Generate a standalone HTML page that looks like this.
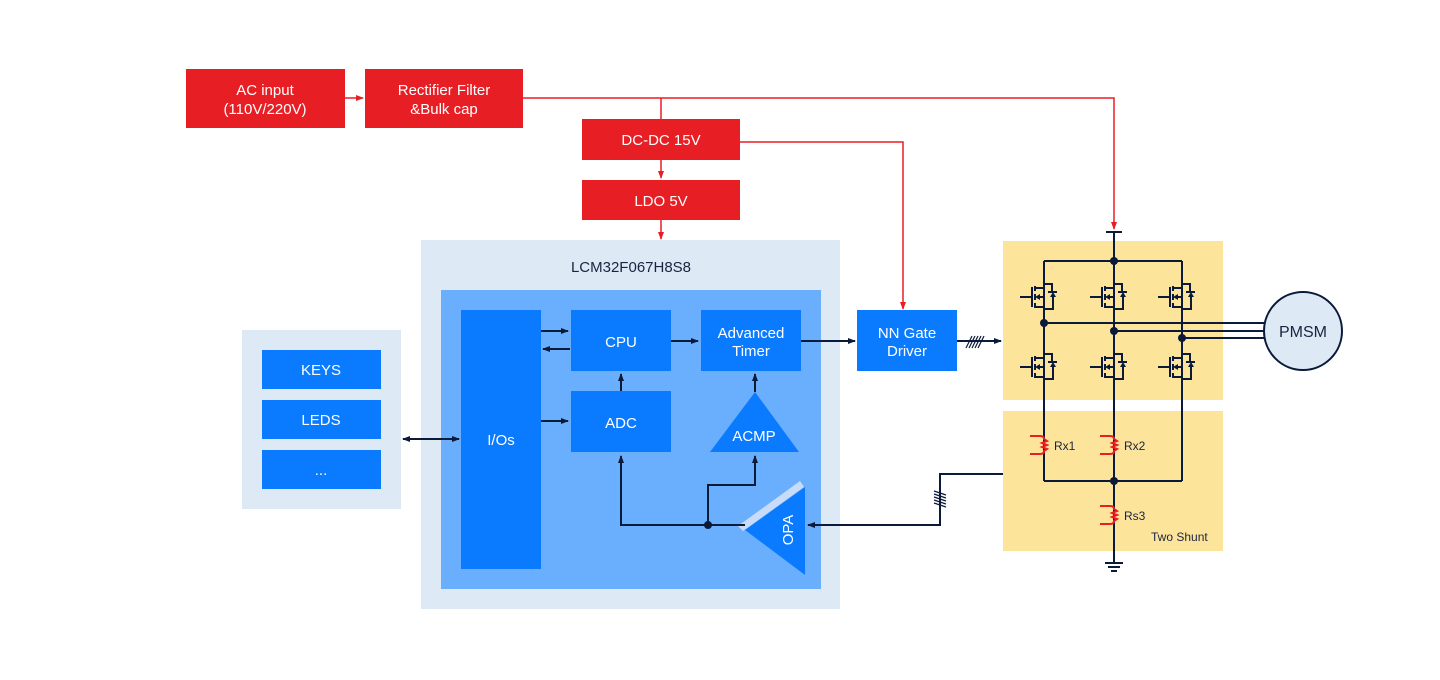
<!DOCTYPE html>
<html><head><meta charset="utf-8"><style>
html,body{margin:0;padding:0;background:#fff;}
svg{display:block;font-family:"Liberation Sans",sans-serif;}
</style></head><body>
<svg width="1440" height="680" viewBox="0 0 1440 680" xmlns="http://www.w3.org/2000/svg">
<defs>
<marker id="an" markerWidth="8" markerHeight="8" refX="7" refY="4" orient="auto" markerUnits="userSpaceOnUse"><path d="M0,1 L8,4 L0,7 Z" fill="#0c1a3a"/></marker>
<marker id="ans" markerWidth="8" markerHeight="8" refX="1" refY="4" orient="auto" markerUnits="userSpaceOnUse"><path d="M8,1 L0,4 L8,7 Z" fill="#0c1a3a"/></marker>
<marker id="ar" markerWidth="8" markerHeight="8" refX="7" refY="4" orient="auto" markerUnits="userSpaceOnUse"><path d="M0,1 L8,4 L0,7 Z" fill="#e81e25"/></marker>
<g id="fet" stroke="#0c1a3a" stroke-width="2" fill="none">
<path d="M-24,0 H-13 M-12,-10 V10 M-9,-11 V-6 M-9,-3 V3 M-9,6 V11 M-9,-9 H0 M-9,10 H0 M0,-13 H8 V-5 M4,-5 H13 M0,12 H9 V-1 M0,0 H-5"/>
<path d="M-9,0 L-4,-3 L-4,3 Z M9,-5 L6,0 L12,0 Z" fill="#0c1a3a" stroke="none"/>
</g>
<g id="res" stroke="#e81e25" stroke-width="2" fill="none">
<path d="M-14,-9 H-4 Q0,-9 0,-6 L3,-4 L-2,-2 L3,0 L-2,2 L3,4 L0,6 Q0,9 -4,9 H-14"/>
</g>
</defs>

<!-- red power boxes -->
<g fill="#e81e25">
<rect x="186" y="69" width="159" height="59"/>
<rect x="365" y="69" width="158" height="59"/>
<rect x="582" y="119" width="158" height="41"/>
<rect x="582" y="180" width="158" height="40"/>
</g>
<g fill="#fff" font-size="15" text-anchor="middle">
<text x="265" y="95">AC input</text><text x="265" y="114">(110V/220V)</text>
<text x="444" y="95">Rectifier Filter</text><text x="444" y="114">&amp;Bulk cap</text>
<text x="661" y="145">DC-DC 15V</text>
<text x="661" y="206">LDO 5V</text>
</g>
<g stroke="#e81e25" stroke-width="1.5" fill="none">
<path d="M345,98 H363" marker-end="url(#ar)"/>
<path d="M523,98 H1114 V229" marker-end="url(#ar)"/>
<path d="M661,98 V119"/>
<path d="M661,160 V178" marker-end="url(#ar)"/>
<path d="M661,220 V239" marker-end="url(#ar)"/>
<path d="M740,142 H903 V309" marker-end="url(#ar)"/>
</g>

<!-- MCU -->
<rect x="421" y="240" width="419" height="369" fill="#dde9f5"/>
<text x="631" y="272" font-size="15" fill="#1a2440" text-anchor="middle">LCM32F067H8S8</text>
<rect x="441" y="290" width="380" height="299" fill="#6aaffe"/>
<g fill="#0a7bff">
<rect x="461" y="310" width="80" height="259"/>
<rect x="571" y="310" width="100" height="61"/>
<rect x="571" y="391" width="100" height="61"/>
<rect x="701" y="310" width="100" height="61"/>
<path d="M755,392 L799,452 L710,452 Z"/>
<rect x="857" y="310" width="100" height="61"/>
<path d="M745,530 L805,487 L805,575 Z"/>
</g>
<path d="M738,526 L800,481 L804,487 L743,531 Z" fill="#c8dcfa"/>
<g fill="#fff" font-size="15" text-anchor="middle">
<text x="501" y="445">I/Os</text>
<text x="621" y="347">CPU</text>
<text x="621" y="428">ADC</text>
<text x="751" y="338">Advanced</text><text x="751" y="356">Timer</text>
<text x="754" y="441">ACMP</text>
<text x="907" y="338">NN Gate</text><text x="907" y="356">Driver</text>
<text x="0" y="0" transform="translate(793,530) rotate(-90)">OPA</text>
</g>

<!-- keys panel -->
<rect x="242" y="330" width="159" height="179" fill="#dde9f5"/>
<g fill="#0a7bff">
<rect x="262" y="350" width="119" height="39"/>
<rect x="262" y="400" width="119" height="39"/>
<rect x="262" y="450" width="119" height="39"/>
</g>
<g fill="#fff" font-size="15" text-anchor="middle">
<text x="321" y="375">KEYS</text><text x="321" y="425">LEDS</text><text x="321" y="475">...</text>
</g>

<!-- navy connectors -->
<g stroke="#0c1a3a" stroke-width="2" fill="none">
<path d="M541,331 H568" marker-end="url(#an)"/>
<path d="M570,349 H543" marker-end="url(#an)"/>
<path d="M541,421 H568" marker-end="url(#an)"/>
<path d="M403,439 H459" marker-end="url(#an)" marker-start="url(#ans)"/>
<path d="M621,391 V374" marker-end="url(#an)"/>
<path d="M755,392 V374" marker-end="url(#an)"/>
<path d="M671,341 H698" marker-end="url(#an)"/>
<path d="M801,341 H855" marker-end="url(#an)"/>
<path d="M957,341 H1001" marker-end="url(#an)"/>
<path d="M745,525 H621 V456" marker-end="url(#an)"/>
<path d="M708,525 V485 H755 V456" marker-end="url(#an)"/>
<path d="M1003,474 H940 V525 H808" marker-end="url(#an)"/>
</g>
<circle cx="708" cy="525" r="4" fill="#0c1a3a"/>
<g stroke="#0c1a3a" stroke-width="1.2">
<path d="M966,348 L972,336 M969,348 L975,336 M972,348 L978,336 M975,348 L981,336 M978,348 L984,336"/>
<path d="M934,491 L946,495 M934,494 L946,498 M934,497 L946,501 M934,500 L946,504 M934,503 L946,507"/>
</g>

<!-- bridge -->
<rect x="1003" y="241" width="220" height="159" fill="#fde49b"/>
<rect x="1003" y="411" width="220" height="140" fill="#fde49b"/>
<g stroke="#0c1a3a" stroke-width="2" fill="none">
<path d="M1106,232 H1122 M1114,232 V261"/>
<path d="M1044,261 H1182 M1044,261 V481 M1114,261 V563 M1182,261 V481 M1044,481 H1182"/>
<path d="M1044,323 H1265 M1114,331 H1265 M1182,338 H1265"/>
<path d="M1105,563 H1123 M1108,567 H1120 M1111,571 H1117"/>
</g>
<g fill="#0c1a3a">
<circle cx="1114" cy="261" r="4"/><circle cx="1044" cy="323" r="4"/><circle cx="1114" cy="331" r="4"/><circle cx="1182" cy="338" r="4"/><circle cx="1114" cy="481" r="4"/>
</g>
<g>
<use href="#fet" x="1044" y="297"/><use href="#fet" x="1114" y="297"/><use href="#fet" x="1182" y="297"/>
<use href="#fet" x="1044" y="367"/><use href="#fet" x="1114" y="367"/><use href="#fet" x="1182" y="367"/>
<use href="#res" x="1044" y="445"/><use href="#res" x="1114" y="445"/><use href="#res" x="1114" y="515"/>
</g>
<g font-size="12" fill="#1a2440">
<text x="1054" y="450">Rx1</text><text x="1124" y="450">Rx2</text><text x="1124" y="520">Rs3</text>
<text x="1151" y="541">Two Shunt</text>
</g>
<circle cx="1303" cy="331" r="39" fill="#dde9f5" stroke="#0c1a3a" stroke-width="2"/>
<text x="1303" y="337" font-size="16" fill="#1a2440" text-anchor="middle">PMSM</text>
</svg>
</body></html>
